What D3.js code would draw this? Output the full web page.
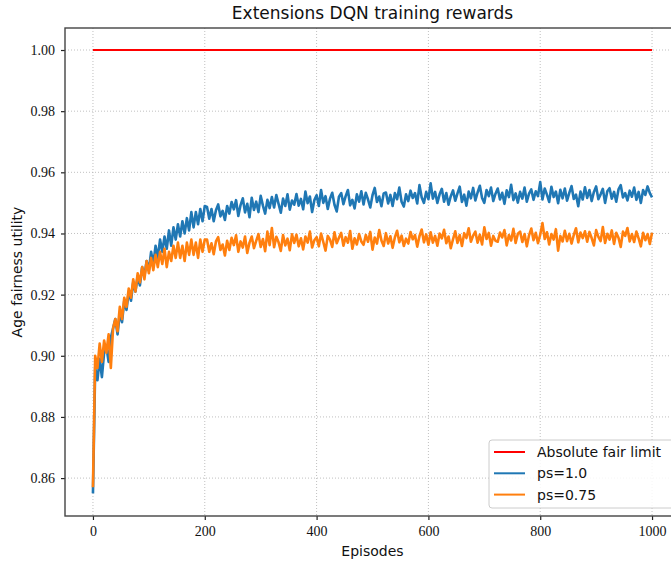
<!DOCTYPE html>
<html>
<head>
<meta charset="utf-8">
<script src="https://cdn.jsdelivr.net/npm/d3@7"></script>
<style>
  html, body { margin: 0; padding: 0; background: #fff; }
  svg { display: block; }
</style>
</head>
<body>
<svg id="chart" width="671" height="563"></svg>
<script>
// ---------------- data ----------------
const title = "Extensions DQN training rewards";
const xLabel = "Episodes";
const yLabel = "Age fairness utility";
const xTicks = [0, 200, 400, 600, 800, 1000];
const yTicks = [0.86, 0.88, 0.90, 0.92, 0.94, 0.96, 0.98, 1.00];
const seriesNames = ["Absolute fair limit", "ps=1.0", "ps=0.75"];
const episodeStep = 4; // values sampled every 4 episodes, 0..1000
const fairLimit = [1.0, 1.0]; // at episodes 0 and 1000

const ps100 = [
  0.855, 0.896, 0.892, 0.899, 0.893, 0.901, 0.903, 0.898, 0.906, 0.909,
  0.912, 0.907, 0.914, 0.911, 0.918, 0.915, 0.921, 0.918, 0.924, 0.921,
  0.926, 0.923, 0.929, 0.926, 0.931, 0.928, 0.934, 0.930, 0.936, 0.932,
  0.938, 0.934, 0.939, 0.935, 0.941, 0.936, 0.942, 0.938, 0.943, 0.939,
  0.944, 0.940, 0.945, 0.941, 0.947, 0.942, 0.947, 0.943, 0.948, 0.944,
  0.949,
  0.9487, 0.9448, 0.9480, 0.9440, 0.9476, 0.9495, 0.9456, 0.9474, 0.9444, 0.9490,
  0.9465, 0.9503, 0.9479, 0.9509, 0.9457, 0.9493, 0.9515, 0.9469, 0.9497, 0.9453,
  0.9517, 0.9477, 0.9504, 0.9470, 0.9523, 0.9491, 0.9465, 0.9510, 0.9483, 0.9519,
  0.9485, 0.9526, 0.9497, 0.9468, 0.9514, 0.9490, 0.9528, 0.9478, 0.9508, 0.9494,
  0.9529, 0.9491, 0.9513, 0.9479, 0.9537, 0.9499, 0.9521, 0.9470, 0.9509, 0.9525,
  0.9490, 0.9542, 0.9500, 0.9522, 0.9480, 0.9514, 0.9533, 0.9494, 0.9472, 0.9520,
  0.9532, 0.9496, 0.9522, 0.9542, 0.9492, 0.9510, 0.9482, 0.9528, 0.9504, 0.9538,
  0.9495, 0.9533, 0.9511, 0.9485, 0.9525, 0.9549, 0.9503, 0.9521, 0.9489, 0.9531,
  0.9534, 0.9498, 0.9526, 0.9490, 0.9532, 0.9512, 0.9550, 0.9504, 0.9488, 0.9528,
  0.9506, 0.9540, 0.9516, 0.9532, 0.9498, 0.9558, 0.9518, 0.9500, 0.9536, 0.9512,
  0.9564, 0.9514, 0.9536, 0.9500, 0.9528, 0.9546, 0.9504, 0.9532, 0.9494, 0.9522,
  0.9541, 0.9507, 0.9531, 0.9553, 0.9503, 0.9527, 0.9491, 0.9537, 0.9515, 0.9549,
  0.9508, 0.9534, 0.9556, 0.9516, 0.9500, 0.9542, 0.9522, 0.9550, 0.9506, 0.9530,
  0.9547, 0.9511, 0.9533, 0.9497, 0.9541, 0.9519, 0.9559, 0.9509, 0.9531, 0.9501,
  0.9536, 0.9514, 0.9550, 0.9504, 0.9530, 0.9544, 0.9510, 0.9538, 0.9522, 0.9568,
  0.9511, 0.9547, 0.9527, 0.9503, 0.9553, 0.9519, 0.9537, 0.9499, 0.9543, 0.9515,
  0.9547, 0.9507, 0.9533, 0.9555, 0.9513, 0.9527, 0.9489, 0.9537, 0.9511, 0.9551,
  0.9516, 0.9542, 0.9506, 0.9536, 0.9554, 0.9512, 0.9528, 0.9546, 0.9500, 0.9538,
  0.9548, 0.9514, 0.9536, 0.9504, 0.9544, 0.9558, 0.9518, 0.9532, 0.9508, 0.9540,
  0.9520, 0.9550, 0.9510, 0.9536, 0.9500, 0.9542, 0.9526, 0.9554, 0.9532, 0.9518
];

const ps075 = [
  0.857, 0.900, 0.896, 0.904, 0.898, 0.905, 0.901, 0.907, 0.896, 0.909,
  0.912, 0.908, 0.916, 0.912, 0.919, 0.916, 0.922, 0.919, 0.925, 0.921,
  0.927, 0.924, 0.929, 0.925, 0.931, 0.927, 0.932, 0.928, 0.933, 0.929,
  0.934, 0.930, 0.935, 0.929, 0.934, 0.931, 0.936, 0.932, 0.937, 0.932,
  0.936, 0.931, 0.937, 0.933, 0.938, 0.933, 0.937, 0.932, 0.938, 0.934,
  0.938,
  0.9380, 0.9340, 0.9368, 0.9332, 0.9374, 0.9388, 0.9346, 0.9364, 0.9328, 0.9376,
  0.9346, 0.9386, 0.9362, 0.9394, 0.9340, 0.9374, 0.9354, 0.9390, 0.9336, 0.9370,
  0.9390, 0.9352, 0.9376, 0.9398, 0.9356, 0.9382, 0.9342, 0.9406, 0.9362, 0.9418,
  0.9355, 0.9389, 0.9371, 0.9343, 0.9395, 0.9361, 0.9383, 0.9345, 0.9397, 0.9369,
  0.9396, 0.9358, 0.9384, 0.9348, 0.9390, 0.9370, 0.9406, 0.9354, 0.9378, 0.9388,
  0.9358, 0.9400, 0.9372, 0.9344, 0.9392, 0.9380, 0.9356, 0.9404, 0.9368, 0.9386,
  0.9402, 0.9360, 0.9388, 0.9370, 0.9408, 0.9350, 0.9384, 0.9364, 0.9398, 0.9374,
  0.9363, 0.9395, 0.9373, 0.9405, 0.9347, 0.9387, 0.9367, 0.9411, 0.9377, 0.9359,
  0.9401, 0.9367, 0.9391, 0.9353, 0.9387, 0.9409, 0.9371, 0.9393, 0.9359, 0.9383,
  0.9367, 0.9405, 0.9381, 0.9395, 0.9357, 0.9391, 0.9413, 0.9371, 0.9397, 0.9363,
  0.9404, 0.9370, 0.9392, 0.9360, 0.9400, 0.9384, 0.9412, 0.9368, 0.9390, 0.9352,
  0.9381, 0.9407, 0.9369, 0.9395, 0.9359, 0.9401, 0.9385, 0.9417, 0.9373, 0.9393,
  0.9406, 0.9370, 0.9396, 0.9364, 0.9420, 0.9382, 0.9402, 0.9360, 0.9392, 0.9376,
  0.9373, 0.9403, 0.9387, 0.9411, 0.9361, 0.9395, 0.9377, 0.9415, 0.9369, 0.9399,
  0.9406, 0.9372, 0.9398, 0.9358, 0.9394, 0.9416, 0.9378, 0.9402, 0.9368, 0.9396,
  0.9434, 0.9382, 0.9404, 0.9364, 0.9398, 0.9380, 0.9414, 0.9344, 0.9392, 0.9374,
  0.9409, 0.9375, 0.9399, 0.9367, 0.9395, 0.9417, 0.9371, 0.9403, 0.9385, 0.9407,
  0.9373, 0.9405, 0.9385, 0.9361, 0.9411, 0.9389, 0.9375, 0.9421, 0.9369, 0.9399,
  0.9380, 0.9410, 0.9366, 0.9402, 0.9386, 0.9356, 0.9406, 0.9392, 0.9418, 0.9374,
  0.9398, 0.9372, 0.9406, 0.9384, 0.9358, 0.9402, 0.9378, 0.9398, 0.9366, 0.9402
];

const colors = ["#ff0000", "#1f77b4", "#ff7f0e"];

// ---------------- layout ----------------
const svg = d3.select("#chart");
const plot = { left: 65, right: 680, top: 28, bottom: 516 };

const x = d3.scaleLinear().domain([-50, 1050]).range([plot.left, plot.right]);
const y = d3.scaleLinear().domain([0.8476, 1.0072]).range([plot.bottom, plot.top]);

const sans = "'DejaVu Sans', sans-serif";
const serif = "'Liberation Serif', 'Times New Roman', serif";

// gridlines
const grid = svg.append("g").attr("class", "grid");
grid.selectAll("line.gx").data(xTicks).enter().append("line")
  .attr("x1", d => x(d)).attr("x2", d => x(d))
  .attr("y1", plot.top).attr("y2", plot.bottom)
  .attr("stroke", "#b0b0b0").attr("stroke-width", 0.8).attr("stroke-dasharray", "1,2");
grid.selectAll("line.gy").data(yTicks).enter().append("line")
  .attr("y1", d => y(d)).attr("y2", d => y(d))
  .attr("x1", plot.left).attr("x2", plot.right)
  .attr("stroke", "#b0b0b0").attr("stroke-width", 0.8).attr("stroke-dasharray", "1,2");

// series
const episodes = ps100.map((_, i) => i * episodeStep);
const line = d3.line().x(d => x(d[0])).y(d => y(d[1]));

svg.append("path")
  .datum([[0, fairLimit[0]], [1000, fairLimit[1]]])
  .attr("d", line).attr("fill", "none")
  .attr("stroke", colors[0]).attr("stroke-width", 2);

svg.append("path")
  .datum(ps100.map((v, i) => [episodes[i], v]))
  .attr("d", line).attr("fill", "none")
  .attr("stroke", colors[1]).attr("stroke-width", 2.6).attr("stroke-linejoin", "round");

svg.append("path")
  .datum(ps075.map((v, i) => [episodes[i], v]))
  .attr("d", line).attr("fill", "none")
  .attr("stroke", colors[2]).attr("stroke-width", 2.6).attr("stroke-linejoin", "round");

// axes
const xAxis = d3.axisBottom(x).tickValues(xTicks).tickFormat(d3.format("d")).tickSize(4).tickPadding(6);
const yAxis = d3.axisLeft(y).tickValues(yTicks).tickFormat(d3.format(".2f")).tickSize(4).tickPadding(6);

const gx = svg.append("g").attr("transform", `translate(0,${plot.bottom})`).call(xAxis);
const gy = svg.append("g").attr("transform", `translate(${plot.left},0)`).call(yAxis);
[gx, gy].forEach(g => {
  g.select(".domain").remove();
  g.selectAll(".tick line").attr("stroke", "#222").attr("stroke-width", 1.2);
  g.selectAll(".tick text").attr("fill", "#111").style("font-family", serif).style("font-size", "14px");
});

// spines
svg.append("rect")
  .attr("x", plot.left).attr("y", plot.top)
  .attr("width", plot.right - plot.left).attr("height", plot.bottom - plot.top)
  .attr("fill", "none").attr("stroke", "#444").attr("stroke-width", 1.4);

// title & labels
svg.append("text").attr("x", (plot.left + plot.right) / 2).attr("y", 19)
  .attr("text-anchor", "middle").style("font-family", sans).style("font-size", "17px")
  .attr("fill", "#111").text(title);
svg.append("text").attr("x", (plot.left + plot.right) / 2).attr("y", 556)
  .attr("text-anchor", "middle").style("font-family", sans).style("font-size", "14px")
  .attr("fill", "#111").text(xLabel);
svg.append("text")
  .attr("transform", `translate(22,${(plot.top + plot.bottom) / 2}) rotate(-90)`)
  .attr("text-anchor", "middle").style("font-family", sans).style("font-size", "14px")
  .attr("fill", "#111").text(yLabel);

// legend
const lg = svg.append("g").attr("transform", "translate(489,440)");
lg.append("rect").attr("x", 0).attr("y", 0).attr("width", 186).attr("height", 68)
  .attr("rx", 3).attr("fill", "#fff").attr("fill-opacity", 0.85)
  .attr("stroke", "#cccccc").attr("stroke-width", 1);
seriesNames.forEach((name, i) => {
  const yy = 12 + i * 21.3;
  lg.append("line").attr("x1", 5).attr("x2", 36).attr("y1", yy).attr("y2", yy)
    .attr("stroke", colors[i]).attr("stroke-width", 2);
  lg.append("text").attr("x", 48).attr("y", yy + 5)
    .style("font-family", sans).style("font-size", "14px").attr("fill", "#111").text(name);
});
</script>
</body>
</html>
